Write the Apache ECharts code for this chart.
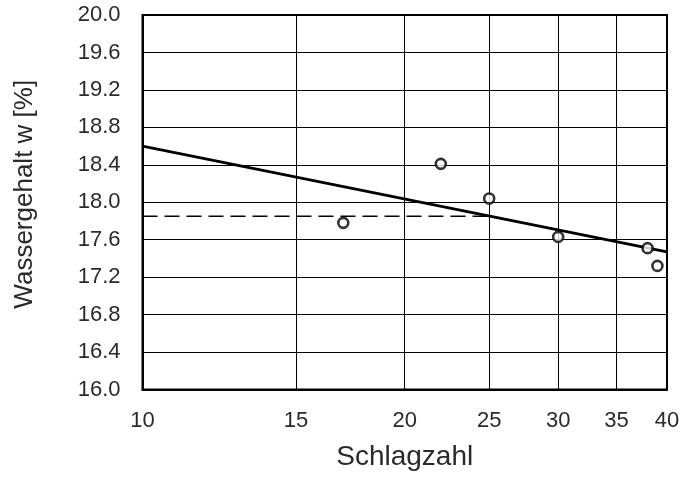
<!DOCTYPE html>
<html>
<head>
<meta charset="utf-8">
<script src="https://cdn.jsdelivr.net/npm/echarts@6/dist/echarts.min.js"></script>
<style>html,body{margin:0;padding:0;background:#fff}#c{width:683px;height:477px}</style>
</head>
<body>
<div id="c"></div>
<script>
// Data
const xTicks = [10, 15, 20, 25, 30, 35, 40];
const schlagzahl = [17, 22, 25, 30, 38, 39];
const wassergehalt = [17.78, 18.41, 18.04, 17.63, 17.51, 17.32];
const fitX = [10, 40];
const fitY = [18.60, 17.47];
const dashX = [10, 25];
const dashY = [17.85, 17.85];

const font = 'Liberation Sans';
const chart = echarts.init(document.getElementById('c'));
chart.setOption({
  animation: false,
  backgroundColor: '#fff',
  grid: { left: 142.5, right: 16, top: 15, bottom: 87.5, show: true, borderColor: '#000', borderWidth: 2, backgroundColor: 'transparent' },
  xAxis: {
    type: 'log', logBase: 10, min: 10, max: 40,
    name: 'Schlagzahl', nameLocation: 'middle', nameGap: 54,
    nameTextStyle: { fontFamily: font, fontSize: 28, color: '#2a2a2a' },
    axisLine: { show: true, onZero: false, lineStyle: { color: '#000', width: 2 } },
    axisTick: { show: false, customValues: xTicks },
    axisLabel: { customValues: xTicks, fontFamily: font, fontSize: 22, color: '#2a2a2a', margin: 20, showMinLabel: true, showMaxLabel: true, formatter: v => String(Math.round(v)) },
    splitLine: { show: true, lineStyle: { color: '#000', width: 1 } },
    minorTick: { show: false }, minorSplitLine: { show: false }
  },
  yAxis: {
    type: 'value', min: 16, max: 20, interval: 0.4,
    name: 'Wassergehalt w [%]', nameLocation: 'middle', nameGap: 105,
    nameTextStyle: { fontFamily: font, fontSize: 26, color: '#2a2a2a', padding: [0, 0, 0, 16] },
    axisLine: { show: true, lineStyle: { color: '#000', width: 2 } },
    axisTick: { show: false },
    axisLabel: { fontFamily: font, fontSize: 22, color: '#2a2a2a', margin: 22, formatter: v => v.toFixed(1) },
    splitLine: { show: true, lineStyle: { color: '#000', width: 1 } }
  },
  series: [
    {
      type: 'line', data: fitX.map((x, i) => [x, fitY[i]]), symbol: 'none',
      lineStyle: { color: '#000', width: 2.8 }, z: 3
    },
    {
      type: 'line', data: dashX.map((x, i) => [x, dashY[i]]), symbol: 'none',
      lineStyle: { color: '#000', width: 1.6, type: [15, 7] }, z: 3
    },
    {
      type: 'scatter', data: schlagzahl.map((x, i) => [x, wassergehalt[i]]),
      symbol: 'circle', symbolSize: 10,
      itemStyle: { color: '#fff', borderColor: '#000', borderWidth: 2.6 }, z: 4
    }
  ]
});
</script>
</body>
</html>
